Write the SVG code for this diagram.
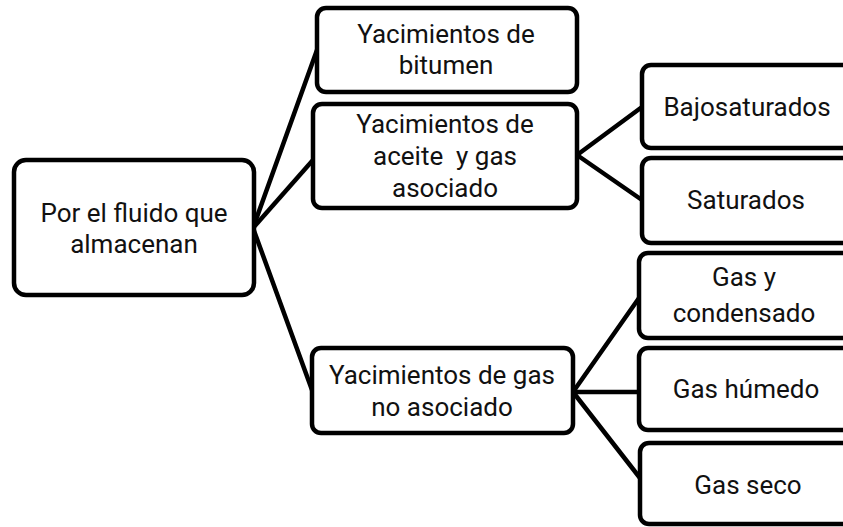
<svg xmlns="http://www.w3.org/2000/svg" width="843" height="527" viewBox="0 0 843 527">
<style>
.box{fill:#fff;stroke:#000;stroke-width:4.5}
.lbl{font-family:Roboto,"Open Sans","Liberation Sans",sans-serif;font-size:26px;fill:#111;text-anchor:middle}
.conn{stroke:#000;stroke-width:4.5;fill:none;stroke-linecap:round}
</style>
<rect width="843" height="527" fill="#fff"/>
<g id="connectors">
<line class="conn" x1="253" y1="228" x2="317" y2="50"/>
<line class="conn" x1="253" y1="228" x2="313" y2="160"/>
<line class="conn" x1="253" y1="228" x2="312" y2="390"/>
<line class="conn" x1="577" y1="155" x2="642" y2="107"/>
<line class="conn" x1="577" y1="155" x2="642" y2="200"/>
<line class="conn" x1="573" y1="392" x2="639" y2="298"/>
<line class="conn" x1="573" y1="392" x2="639" y2="392"/>
<line class="conn" x1="573" y1="392" x2="640" y2="478"/>
</g>
<g id="root">
<rect class="box" x="14" y="160" width="240" height="135" rx="12"/>
<text class="lbl" x="134" y="222">Por el fluido que</text>
<text class="lbl" x="134" y="253">almacenan</text>
</g>
<g id="bitumen">
<rect class="box" x="317" y="8" width="260" height="84" rx="9"/>
<text class="lbl" x="446" y="43">Yacimientos de</text>
<text class="lbl" x="446" y="74">bitumen</text>
</g>
<g id="aceite">
<rect class="box" x="313" y="104" width="264" height="104" rx="9"/>
<text class="lbl" x="445" y="133">Yacimientos de</text>
<text class="lbl" x="445" y="165" xml:space="preserve" style="white-space:pre">aceite  y gas</text>
<text class="lbl" x="445" y="197">asociado</text>
</g>
<g id="gasnoasociado">
<rect class="box" x="312" y="348" width="261" height="85" rx="9"/>
<text class="lbl" x="442" y="384">Yacimientos de gas</text>
<text class="lbl" x="442" y="416">no asociado</text>
</g>
<g id="bajosaturados">
<rect class="box" x="642" y="65" width="220" height="83" rx="9"/>
<text class="lbl" x="747" y="116">Bajosaturados</text>
</g>
<g id="saturados">
<rect class="box" x="642" y="158" width="220" height="85" rx="9"/>
<text class="lbl" x="746" y="209">Saturados</text>
</g>
<g id="gascondensado">
<rect class="box" x="639" y="253" width="220" height="85" rx="9"/>
<text class="lbl" x="744" y="286">Gas y</text>
<text class="lbl" x="744" y="322">condensado</text>
</g>
<g id="gashumedo">
<rect class="box" x="639" y="348" width="220" height="82" rx="9"/>
<text class="lbl" x="746" y="398">Gas húmedo</text>
</g>
<g id="gasseco">
<rect class="box" x="640" y="443" width="220" height="81" rx="9"/>
<text class="lbl" x="748" y="494">Gas seco</text>
</g>
</svg>
